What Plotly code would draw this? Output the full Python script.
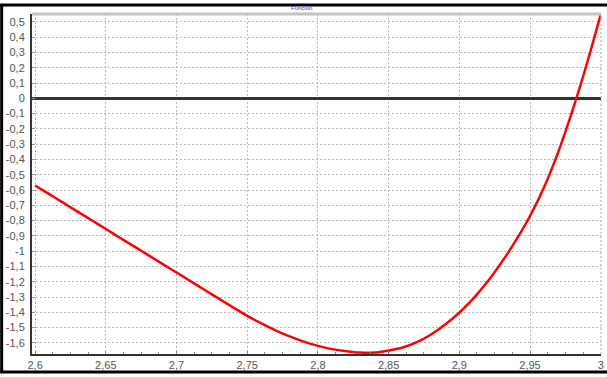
import plotly.graph_objects as go

# Data
x_vals = [2.60, 2.61, 2.62, 2.63, 2.64, 2.65, 2.66, 2.67, 2.68, 2.69,
          2.70, 2.71, 2.72, 2.73, 2.74, 2.75, 2.76, 2.77, 2.78, 2.79,
          2.80, 2.81, 2.82, 2.83, 2.84, 2.85, 2.86, 2.87, 2.88, 2.89,
          2.90, 2.91, 2.92, 2.93, 2.94, 2.95, 2.96, 2.97, 2.98, 2.99, 3.00]
y_vals = [-0.570, -0.627, -0.684, -0.741, -0.798, -0.855, -0.912, -0.969, -1.026, -1.083,
          -1.140, -1.197, -1.254, -1.311, -1.368, -1.423, -1.473, -1.518, -1.558, -1.592,
          -1.620, -1.641, -1.655, -1.664, -1.664, -1.650, -1.630, -1.595, -1.545, -1.480,
          -1.402, -1.309, -1.199, -1.072, -0.930, -0.770, -0.580, -0.350, -0.080, 0.220, 0.550]

x_tick_vals = [2.6, 2.65, 2.7, 2.75, 2.8, 2.85, 2.9, 2.95, 3.0]
x_tick_text = ["2,6", "2,65", "2,7", "2,75", "2,8", "2,85", "2,9", "2,95", "3"]
y_tick_vals = [0.5, 0.4, 0.3, 0.2, 0.1, 0, -0.1, -0.2, -0.3, -0.4, -0.5, -0.6, -0.7, -0.8,
               -0.9, -1.0, -1.1, -1.2, -1.3, -1.4, -1.5, -1.6]
y_tick_text = ["0,5", "0,4", "0,3", "0,2", "0,1", "0", "-0,1", "-0,2", "-0,3", "-0,4", "-0,5",
               "-0,6", "-0,7", "-0,8", "-0,9", "-1", "-1,1", "-1,2", "-1,3", "-1,4", "-1,5", "-1,6"]
title_text = "Función"

W, H = 607, 377
ml, mr, mt, mb = 32, 3, 14, 23
pw, ph = W - ml - mr, H - mt - mb

def px_x(p):
    return (p - ml) / pw

def px_y(p):
    return 1 - (p - mt) / ph

fig = go.Figure()
fig.add_trace(go.Scatter(x=x_vals, y=y_vals, mode="lines",
                         line=dict(color="#ff0000", width=2.5, shape="spline", smoothing=1.0),
                         hoverinfo="skip", showlegend=False))

font = dict(family="Liberation Sans Narrow, Arial Narrow, Liberation Sans, Arial", size=11, color="#555555")

fig.update_layout(
    width=W, height=H,
    margin=dict(l=ml, r=mr, t=mt, b=mb, pad=0),
    paper_bgcolor="white", plot_bgcolor="white",
    showlegend=False,
    xaxis=dict(range=[2.5978, 3.0002], tickvals=x_tick_vals, ticktext=x_tick_text,
               showgrid=True, gridcolor="#b8b8b8", griddash="2px,2px", gridwidth=1,
               zeroline=False, showline=True, linecolor="#333333", linewidth=2,
               ticks="inside", ticklen=3, tickcolor="#888888",
               minor=dict(dtick=0.0125, ticks="inside", ticklen=2, tickcolor="#888888", showgrid=False),
               tickfont=font, fixedrange=True),
    yaxis=dict(range=[-1.673, 0.552], tickvals=y_tick_vals, ticktext=y_tick_text,
               showgrid=True, gridcolor="#b8b8b8", griddash="2px,2px", gridwidth=1,
               zeroline=True, zerolinecolor="#333333", zerolinewidth=3,
               showline=True, linecolor="#333333", linewidth=2,
               ticks="inside", ticklen=3, tickcolor="#999999",
               tickfont=font, ticklabelstandoff=3, fixedrange=True),
    shapes=[
        dict(type="line", xref="paper", yref="paper", x0=0, x1=1, y0=1, y1=1,
             line=dict(color="#c4c4c4", width=3)),
        dict(type="line", xref="paper", yref="paper", x0=1, x1=1, y0=0, y1=1,
             line=dict(color="#a8a8a8", width=1, dash="2px,2px")),
        dict(type="line", xref="paper", yref="paper", x0=px_x(0), x1=px_x(W + 5),
             y0=px_y(5), y1=px_y(5), line=dict(color="black", width=3)),
        dict(type="line", xref="paper", yref="paper", x0=px_x(1.5), x1=px_x(1.5),
             y0=px_y(4), y1=px_y(373), line=dict(color="black", width=3)),
        dict(type="line", xref="paper", yref="paper", x0=px_x(0), x1=px_x(W + 5),
             y0=px_y(372), y1=px_y(372), line=dict(color="black", width=3)),
    ],
    annotations=[
        dict(text=title_text, xref="paper", yref="paper", x=px_x(303), y=px_y(8),
             showarrow=False, font=dict(family="Liberation Sans", size=6, color="#2a2aff"),
             xanchor="center", yanchor="middle"),
    ],
)

fig.write_html("out.html", config={"displayModeBar": False})
